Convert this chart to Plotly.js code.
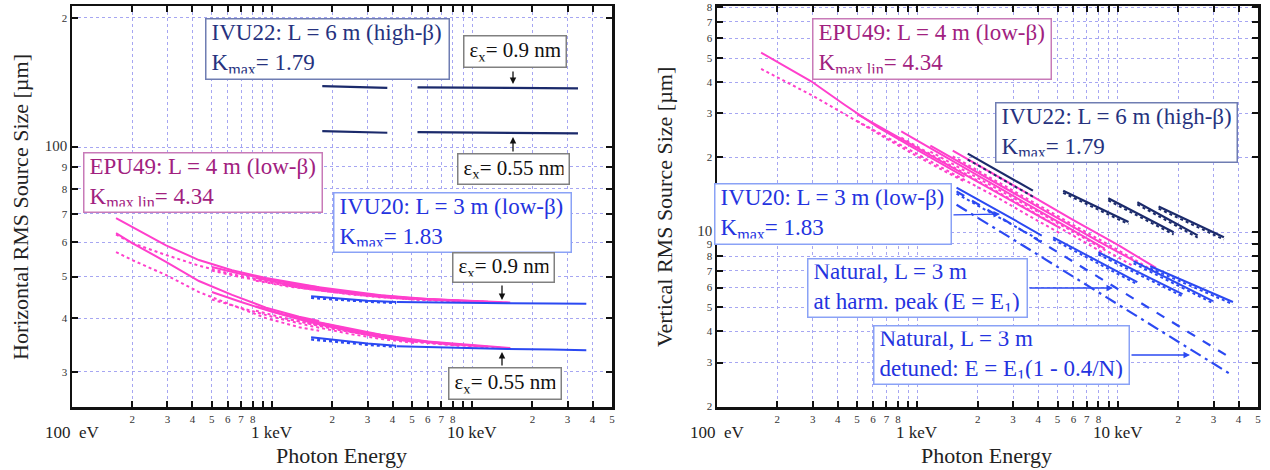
<!DOCTYPE html>
<html><head><meta charset="utf-8">
<script src="https://cdn.plot.ly/plotly-3.0.1.min.js"></script>
<style>html,body{margin:0;padding:0;background:#fff}#chart{width:1270px;height:470px}</style>
</head><body><div id="chart"></div>
<script>
// ================= DATA (photon energy in eV, source size in µm) =================
// EPU49 harmonic energy grids (h1, h3, h5, h7, h9)
const epuH1E = [166, 200, 295, 431, 631, 933, 1365, 1718];
const epuH3E = [500, 700, 1000, 1500, 2500, 3500, 5160];
const epuH5E = [830, 1200, 2000, 3500, 5500, 8600];
const epuH7E = [1160, 1700, 2800, 5000, 8000, 12000];
const epuH9E = [1500, 2200, 3500, 6000, 10000, 15500];
// IVU20 energies
const ivu20H1E = [1567, 2200, 3000, 4169];
const ivu20HnE = [4200, 8000, 15000, 25000, 37200];
const ivu20H3E = [4753, 12500];
const ivu20H5E = [7980, 21000];
const ivu20H7E = [11970, 29800];
const ivu20H9E = [14500, 37500];
// IVU22 energies
const ivu22H1E = [1782, 2600, 3767];
const ivu22HnE = [5333, 10000, 20000, 33800];
const ivu22H3E = [5333, 11300];
const ivu22H5E = [8954, 18970];
const ivu22H7E = [12500, 25000];
const ivu22H9E = [15960, 33800];
// Natural (single-electron) vertical size, L = 3 m
const natPeakE = [1567, 3245, 36600];
const natDetE = [1567, 2993, 35800];

// ---- Horizontal size, eps_x = 0.9 nm ----
const hx09EpuH1 = [68.4, 65.2, 59.1, 54.6, 51.7, 49.6, 48.0, 47.2];
const hx09EpuH1d = [62.6, 59.8, 56.1, 53.0, 50.6, 48.8, 47.3, 46.6];
const hx09EpuH3 = [52.6, 50.7, 49.1, 47.4, 45.8, 45.0, 44.4];
const hx09EpuH3d = [51.6, 49.8, 48.3, 46.8, 45.4, 44.7, 44.2];
const hx09EpuH5 = [49.6, 47.9, 46.4, 45.0, 44.3, 43.9];
const hx09EpuH5d = [48.9, 47.4, 46.0, 44.8, 44.1, 43.8];
const hx09EpuH7 = [48.3, 47.0, 45.6, 44.5, 44.0, 43.7];
const hx09EpuH7d = [47.8, 46.6, 45.3, 44.3, 43.9, 43.6];
const hx09EpuH9 = [47.6, 46.5, 45.2, 44.3, 43.8, 43.5];
const hx09EpuH9d = [47.2, 46.2, 45.0, 44.2, 43.7, 43.4];
const hx09Ivu20H1 = [45.0, 44.4, 43.9, 43.6];
const hx09Ivu20H1d = [44.6, 44.1, 43.7, 43.4];
const hx09Ivu20Hn = [43.6, 43.4, 43.3, 43.25, 43.2];
const hx09Ivu22H1 = [138.6, 138.0, 137.4];
const hx09Ivu22Hn = [137.7, 137.4, 137.1, 137.0];
// ---- Horizontal size, eps_x = 0.55 nm ----
const hx55EpuH1 = [63.1, 59.8, 54.1, 48.8, 45.3, 42.3, 40.3, 39.4];
const hx55EpuH1d = [57.0, 54.6, 50.4, 46.0, 42.9, 40.0, 38.1, 37.4];
const hx55EpuH3 = [46.0, 43.6, 41.4, 39.3, 37.2, 36.1, 35.2];
const hx55EpuH3d = [44.2, 42.2, 40.3, 38.5, 36.7, 35.8, 35.0];
const hx55EpuH5 = [42.6, 40.5, 38.3, 36.4, 35.3, 34.6];
const hx55EpuH5d = [41.6, 39.8, 37.8, 36.1, 35.1, 34.5];
const hx55EpuH7 = [40.8, 39.1, 37.2, 35.6, 34.8, 34.3];
const hx55EpuH7d = [40.0, 38.5, 36.8, 35.4, 34.7, 34.2];
const hx55EpuH9 = [39.6, 38.2, 36.6, 35.3, 34.6, 34.1];
const hx55EpuH9d = [39.0, 37.7, 36.3, 35.1, 34.5, 34.0];
const hx55Ivu20H1 = [36.1, 35.4, 34.9, 34.5];
const hx55Ivu20H1d = [35.7, 35.1, 34.7, 34.3];
const hx55Ivu20Hn = [34.4, 34.1, 33.9, 33.8, 33.7];
const hx55Ivu22H1 = [108.9, 108.5, 108.0];
const hx55Ivu22Hn = [108.4, 108.0, 107.8, 107.6];

// ---- Vertical size ----
const vyEpuH1 = [52.6, 48.2, 40.4, 32.6, 26.5, 22.1, 18.6, 16.7];
const vyEpuH1d = [45.3, 42.0, 35.6, 29.9, 24.9, 20.8, 17.6, 16.0];
const vyEpuH3 = [29.8, 25.6, 21.8, 18.2, 14.5, 12.4, 10.4];
const vyEpuH3d = [28.0, 24.2, 20.6, 17.2, 13.8, 11.8, 9.9];
const vyEpuH5 = [25.4, 21.4, 16.9, 13.1, 10.6, 8.6];
const vyEpuH5d = [24.0, 20.3, 16.1, 12.5, 10.1, 8.2];
const vyEpuH7 = [22.3, 18.7, 14.9, 11.4, 9.2, 7.7];
const vyEpuH7d = [21.1, 17.8, 14.2, 10.9, 8.8, 7.3];
const vyEpuH9 = [21.3, 17.9, 14.4, 11.2, 8.9, 7.2];
const vyEpuH9d = [20.2, 17.0, 13.7, 10.7, 8.5, 6.9];
const vyIvu22H1 = [20.7, 17.4, 14.7];
const vyIvu22H1d = [19.6, 16.5, 13.9];
const vyIvu22H3 = [14.7, 11.0];
const vyIvu22H5 = [13.7, 10.0];
const vyIvu22H7 = [13.2, 9.72];
const vyIvu22H9 = [12.7, 9.55];
const vyIvu20H1 = [15.1, 13.0, 11.3, 9.7];
const vyIvu20H1d = [14.3, 12.3, 10.7, 9.2];
const vyIvu20H3 = [9.55, 6.31];
const vyIvu20H5 = [8.32, 5.65];
const vyIvu20H7 = [7.66, 5.30];
const vyIvu20H9 = [7.31, 5.25];
const vyNatPeak = [14.6, 10.3, 3.13];
const vyNatDet = [12.9, 9.38, 2.72];

// ---- tick labels ----
const xTickVals = [100,200,300,400,500,600,700,800,900,1000,2000,3000,4000,5000,6000,7000,8000,9000,10000,20000,30000,40000,50000];
const xTickText = ['','2','3','4','5','6','7','8','','','2','3','4','5','6','7','8','','','2','3','4','5'];
const xMajorVals = [100, 1000, 10000];
const xMajorText = ['100\u00a0\u00a0eV', '1 keV', '10 keV'];
const yLTickVals = [30,40,50,60,70,80,90,100,200];
const yLTickText = ['3','4','5','6','7','8','9','<span style="font-size:15px">100</span>','2'];
const yRTickVals = [2,3,4,5,6,7,8,9,10,20,30,40,50,60,70,80];
const yRTickText = ['2','3','4','5','6','7','8','9','<span style="font-size:15px">10</span>','2','3','4','5','6','7','8'];

// ================= DRAWING =================
const W = 1270, H = 470;
const F = 'Liberation Serif';
const MAG = '#ff3fcc', BLU = '#2b49f2', NAVY = '#1b2a6b';
const traces = [];
function ln(xa, ya, E, v, color, dash, width){
  traces.push({type:'scatter', mode:'lines', x:E, y:v, xaxis:xa, yaxis:ya,
    line:{color:color, dash:dash, width:width}, hoverinfo:'skip', showlegend:false});
}
// left panel
[[epuH1E,hx09EpuH1,hx09EpuH1d],[epuH3E,hx09EpuH3,hx09EpuH3d],[epuH5E,hx09EpuH5,hx09EpuH5d],
 [epuH7E,hx09EpuH7,hx09EpuH7d],[epuH9E,hx09EpuH9,hx09EpuH9d],
 [epuH1E,hx55EpuH1,hx55EpuH1d],[epuH3E,hx55EpuH3,hx55EpuH3d],[epuH5E,hx55EpuH5,hx55EpuH5d],
 [epuH7E,hx55EpuH7,hx55EpuH7d],[epuH9E,hx55EpuH9,hx55EpuH9d]].forEach(s=>{
  ln('x','y',s[0],s[2],MAG,'dot',2); ln('x','y',s[0],s[1],MAG,'solid',2);
});
ln('x','y',ivu20H1E,hx09Ivu20H1d,BLU,'dot',2.5); ln('x','y',ivu20H1E,hx09Ivu20H1,BLU,'solid',2);
ln('x','y',ivu20HnE,hx09Ivu20Hn,BLU,'solid',2);
ln('x','y',ivu20H1E,hx55Ivu20H1d,BLU,'dot',2.5); ln('x','y',ivu20H1E,hx55Ivu20H1,BLU,'solid',2);
ln('x','y',ivu20HnE,hx55Ivu20Hn,BLU,'solid',2);
ln('x','y',ivu22H1E,hx09Ivu22H1,NAVY,'solid',2.2); ln('x','y',ivu22HnE,hx09Ivu22Hn,NAVY,'solid',2.2);
ln('x','y',ivu22H1E,hx55Ivu22H1,NAVY,'solid',2.2); ln('x','y',ivu22HnE,hx55Ivu22Hn,NAVY,'solid',2.2);
// right panel
[[epuH1E,vyEpuH1,vyEpuH1d],[epuH3E,vyEpuH3,vyEpuH3d],[epuH5E,vyEpuH5,vyEpuH5d],
 [epuH7E,vyEpuH7,vyEpuH7d],[epuH9E,vyEpuH9,vyEpuH9d]].forEach(s=>{
  ln('x2','y2',s[0],s[2],MAG,'dot',2); ln('x2','y2',s[0],s[1],MAG,'solid',2);
});
ln('x2','y2',ivu22H1E,vyIvu22H1d,NAVY,'dot',2); ln('x2','y2',ivu22H1E,vyIvu22H1,NAVY,'solid',2.2);
[[ivu22H3E,vyIvu22H3],[ivu22H5E,vyIvu22H5],[ivu22H7E,vyIvu22H7],[ivu22H9E,vyIvu22H9]].forEach(s=>{
  ln('x2','y2',s[0],s[1].map(v=>v*0.98),NAVY,'dot',2); ln('x2','y2',s[0],s[1],NAVY,'solid',2.2);
});
ln('x2','y2',natPeakE,vyNatPeak,BLU,'dash',2.2);
ln('x2','y2',natDetE,vyNatDet,BLU,'12px,5px,3px,5px',2.2);
ln('x2','y2',ivu20H1E,vyIvu20H1d,BLU,'dot',2); ln('x2','y2',ivu20H1E,vyIvu20H1,BLU,'solid',2);
[[ivu20H3E,vyIvu20H3],[ivu20H5E,vyIvu20H5],[ivu20H7E,vyIvu20H7],[ivu20H9E,vyIvu20H9]].forEach(s=>{
  ln('x2','y2',s[0],s[1].map(v=>v*0.98),BLU,'dot',2); ln('x2','y2',s[0],s[1],BLU,'solid',2);
});

const xDomL = [72/W, 612/W], xDomR = [717/W, 1258/W], yDom = [1-407/H, 1-6/H];
const grid = {showgrid:true, gridcolor:'#a6a6f2', griddash:'dot', gridwidth:1};
function xAx(dom, anchor){
  return Object.assign({domain:dom, anchor:anchor, type:'log', range:[2, Math.log10(50000)],
    tickmode:'array', tickvals:xTickVals, ticktext:xTickText, ticks:'inside', ticklen:6, tickwidth:2,
    tickcolor:'#111', showline:true, linecolor:'#111', linewidth:2.5, mirror:'allticks', zeroline:false,
    tickfont:{family:F, size:11, color:'#333'}, fixedrange:true}, grid);
}
function yAx(anchor, range, vals, text){
  return Object.assign({domain:yDom, anchor:anchor, type:'log', range:range,
    tickmode:'array', tickvals:vals, ticktext:text, ticks:'inside', ticklen:6, tickwidth:2,
    tickcolor:'#111', showline:true, linecolor:'#111', linewidth:2.5, mirror:'allticks', zeroline:false,
    tickfont:{family:F, size:11, color:'#333'}, fixedrange:true}, grid);
}
const px = x => x/W, py = y => 1 - y/H;

const ann = [];
function box(l,t,r,b,text,color,border,size){
  const bw = 1.5, pad = 5;
  ann.push({xref:'paper', yref:'paper', x:px(l), y:py(t), xanchor:'left', yanchor:'top',
    text:text, showarrow:false, align:'left', valign:'middle',
    font:{family:F, size:size, color:color}, bordercolor:border, borderwidth:bw, borderpad:pad,
    bgcolor:'#ffffff', width:(r-l)-2*(bw+pad), height:(b-t)-2*(bw+pad)});
}
function arrow(hx,hy,tx,ty,color,w){
  ann.push({xref:'paper', yref:'paper', x:px(hx), y:py(hy), ax:tx-hx, ay:ty-hy, text:'',
    showarrow:true, arrowhead:2, arrowsize:1, arrowwidth:w, arrowcolor:color});
}
const C22 = '#26327e', CEPU = '#a1217f', C20 = '#2433e0';
// left panel boxes
box(205,18,450,80,'IVU22: L = 6 m (high-β)<br>K<sub>max</sub>= 1.79',C22,'#6f7db2',23);
box(463,35,567,68,'ε<sub>x</sub>= 0.9 nm','#111','#808080',21);
box(457,153,570,185,'ε<sub>x</sub>= 0.55 nm','#111','#808080',21);
box(83,152,323,213,'EPU49: L = 4 m (low-β)<br>K<sub>max lin</sub>= 4.34',CEPU,'#c87ab8',23);
box(333,192,572,253,'IVU20: L = 3 m (low-β)<br>K<sub>max</sub>= 1.83',C20,'#8aa2f6',23);
box(452,252,555,283,'ε<sub>x</sub>= 0.9 nm','#111','#808080',21);
box(448,367,562,400,'ε<sub>x</sub>= 0.55 nm','#111','#808080',21);
arrow(513,84,513,70,'#111',1.3);
arrow(513,137,513,153,'#111',1.3);
arrow(502,300,502,284,'#111',1.3);
arrow(502,352,502,367,'#111',1.3);
// right panel boxes
box(812,18,1052,80,'EPU49: L = 4 m (low-β)<br>K<sub>max lin</sub>= 4.34',CEPU,'#c87ab8',23);
box(995,102,1238,163,'IVU22: L = 6 m (high-β)<br>K<sub>max</sub>= 1.79',C22,'#6f7db2',23);
box(714,183,952,245,'IVU20: L = 3 m (low-β)<br>K<sub>max</sub>= 1.83',C20,'#8aa2f6',23);
box(807,258,1028,318,'Natural, L = 3 m<br>at harm. peak (E = E<sub>1</sub>)',C20,'#8aa2f6',23);
box(873,325,1130,385,'Natural, L = 3 m<br>detuned: E = E<sub>1</sub>(1 - 0.4/N)',C20,'#8aa2f6',23);
arrow(1000,214,952,215,BLU,1.3);
arrow(1113,288,1028,288,BLU,1.3);
arrow(1190,355,1130,355,BLU,1.3);
// major x labels
['x','x2'].forEach(xr=>{
  xMajorVals.forEach((v,i)=>ann.push({xref:xr, yref:'paper', x:Math.log10(v), y:py(432),
    xanchor:'center', yanchor:'middle', text:xMajorText[i], showarrow:false,
    font:{family:F, size:17, color:'#222'}}));
});
// axis titles
ann.push({xref:'paper', yref:'paper', x:px(20), y:py(207), xanchor:'center', yanchor:'middle',
  text:'Horizontal RMS Source Size [µm]', textangle:-90, showarrow:false, font:{family:F, size:22, color:'#222'}});
ann.push({xref:'paper', yref:'paper', x:px(664), y:py(207), xanchor:'center', yanchor:'middle',
  text:'Vertical RMS Source Size [µm]', textangle:-90, showarrow:false, font:{family:F, size:22, color:'#222'}});
ann.push({xref:'paper', yref:'paper', x:px(341), y:py(455), xanchor:'center', yanchor:'middle',
  text:'Photon Energy', showarrow:false, font:{family:F, size:22, color:'#222'}});
ann.push({xref:'paper', yref:'paper', x:px(986), y:py(455), xanchor:'center', yanchor:'middle',
  text:'Photon Energy', showarrow:false, font:{family:F, size:22, color:'#222'}});

// long decade ticks
const shapes = [];
function vt(xr, lx){
  shapes.push({type:'line', xref:xr, yref:'paper', x0:lx, x1:lx, y0:yDom[0], y1:yDom[0]+12/H, line:{color:'#111', width:2.5}});
  shapes.push({type:'line', xref:xr, yref:'paper', x0:lx, x1:lx, y0:yDom[1], y1:yDom[1]-12/H, line:{color:'#111', width:2.5}});
}
[3,4].forEach(l=>{vt('x',l); vt('x2',l);});
function ht(yr, ly, dom){
  shapes.push({type:'line', xref:'paper', yref:yr, y0:ly, y1:ly, x0:dom[0], x1:dom[0]+12/W, line:{color:'#111', width:2.5}});
  shapes.push({type:'line', xref:'paper', yref:yr, y0:ly, y1:ly, x0:dom[1], x1:dom[1]-12/W, line:{color:'#111', width:2.5}});
}
ht('y', 2, xDomL); ht('y2', 1, xDomR);

const layout = {
  width:W, height:H, margin:{l:0, r:0, t:0, b:0}, paper_bgcolor:'#fff', plot_bgcolor:'#fff',
  showlegend:false, hovermode:false,
  xaxis:xAx(xDomL,'y'), xaxis2:xAx(xDomR,'y2'),
  yaxis:yAx('x', [Math.log10(24.85), Math.log10(213)], yLTickVals, yLTickText),
  yaxis2:yAx('x2', [Math.log10(1.99), Math.log10(81)], yRTickVals, yRTickText),
  annotations:ann, shapes:shapes, font:{family:F}
};
Plotly.newPlot('chart', traces, layout, {displayModeBar:false, staticPlot:true});
</script></body></html>
